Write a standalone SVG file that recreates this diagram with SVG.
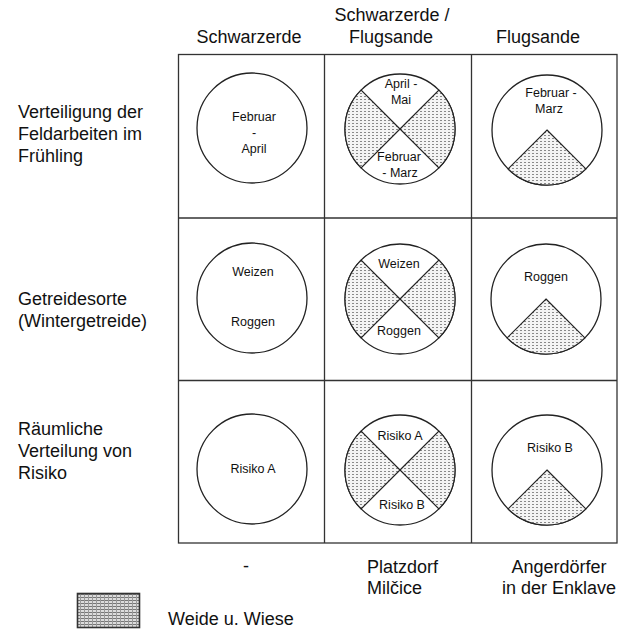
<svg xmlns="http://www.w3.org/2000/svg" width="625" height="632" viewBox="0 0 625 632">
<style>
text{font-family:"Liberation Sans",Arial,sans-serif;fill:#111}
.lbl{font-size:18px}
.in{font-size:12.5px;text-anchor:middle}
.mid{text-anchor:middle}
.grid{stroke:#333;stroke-width:1.3;fill:none}
.c{fill:#fff;stroke:#222;stroke-width:1.3}
.sh{fill:url(#dots);stroke:#222;stroke-width:1.2}
</style>
<defs>
<pattern id="dots" width="4" height="3" patternUnits="userSpaceOnUse">
<rect width="4" height="3" fill="#f4f4f4"/>
<rect x="0" y="0" width="2" height="1" fill="#8a8a8a"/>
</pattern>
<pattern id="dots2" width="4" height="3" patternUnits="userSpaceOnUse">
<rect width="4" height="3" fill="#dcdcdc"/>
<rect x="0" y="0" width="4" height="1" fill="#777"/>
<rect x="0" y="0" width="1" height="3" fill="#999"/>
</pattern>
</defs>
<rect width="625" height="632" fill="#fff"/>

<g id="headers">
<text class="lbl mid" x="249" y="43">Schwarzerde</text>
<text class="lbl mid" x="392" y="21">Schwarzerde /</text>
<text class="lbl mid" x="391" y="43">Flugsande</text>
<text class="lbl mid" x="538" y="43">Flugsande</text>
</g>

<g id="row-labels">
<text class="lbl" x="18" y="118">Verteiligung der</text>
<text class="lbl" x="18" y="140">Feldarbeiten im</text>
<text class="lbl" x="18" y="162">Frühling</text>
<text class="lbl" x="18" y="305">Getreidesorte</text>
<text class="lbl" x="18" y="327">(Wintergetreide)</text>
<text class="lbl" x="18" y="435">Räumliche</text>
<text class="lbl" x="18" y="457">Verteilung von</text>
<text class="lbl" x="18" y="479">Risiko</text>
</g>

<g id="grid">
<rect class="grid" x="178.5" y="54.5" width="438.5" height="488.5"/>
<line class="grid" x1="324.5" y1="54" x2="324.5" y2="543"/>
<line class="grid" x1="471.5" y1="54" x2="471.5" y2="543"/>
<line class="grid" x1="178" y1="218" x2="617" y2="218"/>
<line class="grid" x1="178" y1="380.5" x2="617" y2="380.5"/>
</g>

<g id="r1c1">
<circle class="c" cx="252" cy="128" r="55"/>
<text class="in" x="254" y="121">Februar</text>
<text class="in" x="254" y="137">-</text>
<text class="in" x="254" y="153">April</text>
</g>
<g id="r1c2">
<circle class="c" cx="400" cy="129" r="55"/>
<path class="sh" d="M400 129 L361.1 90.1 A55 55 0 0 0 361.1 167.9 Z"/>
<path class="sh" d="M400 129 L438.9 90.1 A55 55 0 0 1 438.9 167.9 Z"/>
<text class="in" x="401" y="88">April -</text>
<text class="in" x="401" y="104">Mai</text>
<text class="in" x="399" y="161">Februar</text>
<text class="in" x="400" y="177">- Marz</text>
</g>
<g id="r1c3">
<circle class="c" cx="547" cy="130" r="55"/>
<path class="sh" d="M547 130 L585.9 168.9 A55 55 0 0 1 508.1 168.9 Z"/>
<text class="in" x="551" y="97">Februar -</text>
<text class="in" x="549" y="113">Marz</text>
</g>

<g id="r2c1">
<circle class="c" cx="252" cy="298" r="55"/>
<text class="in" x="253" y="276">Weizen</text>
<text class="in" x="253" y="326">Roggen</text>
</g>
<g id="r2c2">
<circle class="c" cx="400" cy="299" r="55"/>
<path class="sh" d="M400 299 L361.1 260.1 A55 55 0 0 0 361.1 337.9 Z"/>
<path class="sh" d="M400 299 L438.9 260.1 A55 55 0 0 1 438.9 337.9 Z"/>
<text class="in" x="399" y="268">Weizen</text>
<text class="in" x="399" y="335">Roggen</text>
</g>
<g id="r2c3">
<circle class="c" cx="546" cy="299" r="55"/>
<path class="sh" d="M546 299 L584.9 337.9 A55 55 0 0 1 507.1 337.9 Z"/>
<text class="in" x="546" y="281">Roggen</text>
</g>

<g id="r3c1">
<circle class="c" cx="252" cy="469" r="55"/>
<text class="in" x="253" y="473">Risiko A</text>
</g>
<g id="r3c2">
<circle class="c" cx="400" cy="470" r="55"/>
<path class="sh" d="M400 470 L361.1 431.1 A55 55 0 0 0 361.1 508.9 Z"/>
<path class="sh" d="M400 470 L438.9 431.1 A55 55 0 0 1 438.9 508.9 Z"/>
<text class="in" x="400" y="440">Risiko A</text>
<text class="in" x="402" y="509">Risiko B</text>
</g>
<g id="r3c3">
<circle class="c" cx="547" cy="470" r="55"/>
<path class="sh" d="M547 470 L585.9 508.9 A55 55 0 0 1 508.1 508.9 Z"/>
<text class="in" x="550" y="452">Risiko B</text>
</g>

<g id="footer">
<text class="lbl mid" x="246" y="572">-</text>
<text class="lbl" x="367" y="573">Platzdorf</text>
<text class="lbl" x="367" y="594">Milčice</text>
<text class="lbl mid" x="559" y="573">Angerdörfer</text>
<text class="lbl mid" x="559" y="594">in der Enklave</text>
</g>

<g id="legend">
<rect x="77.5" y="593.5" width="62" height="34" fill="url(#dots2)" stroke="#333" stroke-width="1.6"/>
<text class="lbl" x="168" y="625">Weide u. Wiese</text>
</g>
</svg>
